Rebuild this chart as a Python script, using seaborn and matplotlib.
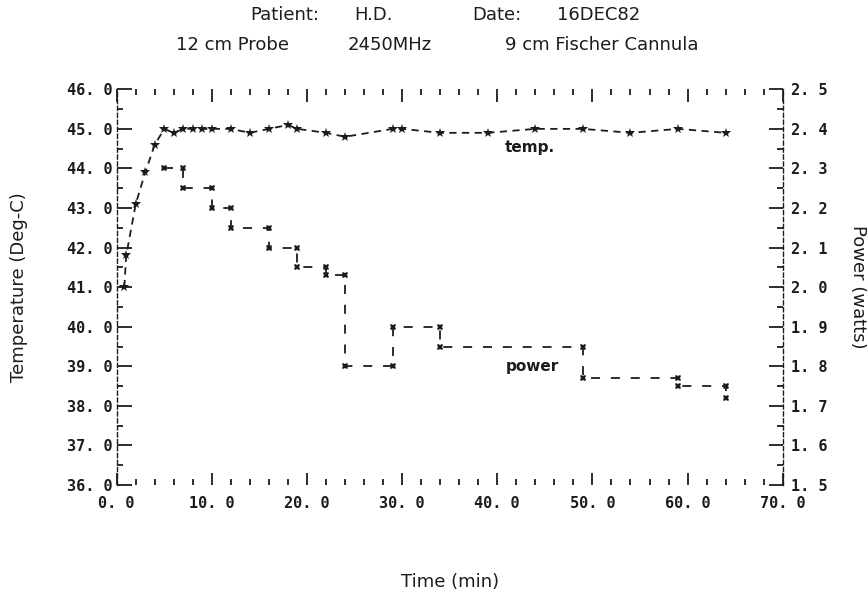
import numpy as np
import matplotlib
matplotlib.use("Agg")
import matplotlib.pyplot as plt
from matplotlib.ticker import MultipleLocator, FuncFormatter
import seaborn as sns

# Tissue temperature (deg C) against elapsed treatment time (min)
temp_time = [0.8, 1, 2, 3, 4, 5, 6, 7, 8, 9, 10, 12, 14, 16, 18, 19,
             22, 24, 29, 30, 34, 39, 44, 49, 54, 59, 64]
temp_degc = [41.0, 41.8, 43.1, 43.9, 44.6, 45.0, 44.9, 45.0, 45.0, 45.0,
             45.0, 45.0, 44.9, 45.0, 45.1, 45.0, 44.9, 44.8, 45.0, 45.0,
             44.9, 44.9, 45.0, 45.0, 44.9, 45.0, 44.9]

# Forward power setting (watts); each setting holds until the next change
power_time = [5, 7, 10, 12, 16, 19, 22, 24, 29, 34, 49, 59, 64]
power_watts = [2.30, 2.25, 2.20, 2.15, 2.10, 2.05, 2.03, 1.80, 1.90,
               1.85, 1.77, 1.75, 1.72]

title_row1 = ["Patient:", "H.D.", "Date:", "16DEC82"]
title_row2 = ["12 cm Probe", "2450MHz", "9 cm Fischer Cannula"]

sns.set_style("white")
plt.rcParams["font.family"] = ["DejaVu Sans"]

ink = "#1c1c1c"
W, H = 867, 590
fig = plt.figure(figsize=(W / 100, H / 100), dpi=100)
ax_left, ax_right, ax_top, ax_bot = 116.7, 782.7, 89.3, 485.0
ax = fig.add_axes([ax_left / W, 1 - ax_bot / H,
                   (ax_right - ax_left) / W, (ax_bot - ax_top) / H])
ax2 = ax.twinx()

# temperature trace on the left scale
sns.lineplot(x=temp_time, y=temp_degc, ax=ax, sort=False, estimator=None,
             color=ink, linewidth=1.3, linestyle=(0, (4, 3)),
             marker="*", markersize=7, markeredgewidth=0)

# power as a step trace on the right scale, marked at every corner
step_t = np.repeat(power_time, 2)[1:]
step_p = np.repeat(power_watts, 2)[:-1]
sns.lineplot(x=step_t, y=step_p, ax=ax2, sort=False, estimator=None,
             color=ink, linewidth=1.3, linestyle=(0, (5, 6)),
             marker="X", markersize=5, markeredgewidth=0)

ax.set_xlim(0, 70)
ax.set_ylim(36, 46)
ax2.set_ylim(1.5, 2.5)

ax.xaxis.set_major_locator(MultipleLocator(10))
ax.xaxis.set_minor_locator(MultipleLocator(2))
ax.yaxis.set_major_locator(MultipleLocator(1))
ax.yaxis.set_minor_locator(MultipleLocator(0.5))
ax2.yaxis.set_major_locator(MultipleLocator(0.1))
ax2.yaxis.set_minor_locator(MultipleLocator(0.05))

plotter = FuncFormatter(lambda v, pos: f"{v:.1f}".replace(".", ". "))
ax.xaxis.set_major_formatter(plotter)
ax.yaxis.set_major_formatter(plotter)
ax2.yaxis.set_major_formatter(plotter)

tick_font = dict(family="DejaVu Sans Mono", weight="bold", size=11)
ax.tick_params(axis="x", which="both", direction="in", top=True, bottom=True,
               color=ink, width=1.3, pad=8, labelcolor=ink)
ax.tick_params(axis="x", which="major", length=9)
ax.tick_params(axis="x", which="minor", length=4)
ax.tick_params(axis="y", which="both", direction="in", left=True, right=False,
               color=ink, width=1.3, pad=3, labelcolor=ink)
ax.tick_params(axis="y", which="major", length=11)
ax.tick_params(axis="y", which="minor", length=4)
ax2.tick_params(axis="y", which="both", direction="in", right=True, left=False,
                color=ink, width=1.3, pad=6, labelcolor=ink)
ax2.tick_params(axis="y", which="major", length=10)
ax2.tick_params(axis="y", which="minor", length=4)
for lab in ax.get_xticklabels() + ax.get_yticklabels() + ax2.get_yticklabels():
    lab.set_fontproperties(tick_font)

for name in ["top", "bottom", "right"]:
    ax.spines[name].set_visible(False)
for name in ["top", "bottom", "left"]:
    ax2.spines[name].set_visible(False)
for sp in (ax.spines["left"], ax2.spines["right"]):
    sp.set_linestyle((0, (3, 2)))
    sp.set_linewidth(1.0)
    sp.set_color(ink)

label_font = dict(size=13, color=ink)
ax.set_xlabel("Time (min)", **label_font)
ax.xaxis.set_label_coords(0.5, -0.222)
ax.set_ylabel("Temperature (Deg-C)", rotation=90, va="center", **label_font)
ax.yaxis.set_label_coords(-0.147, 0.5)
ax2.set_ylabel("Power (watts)", rotation=270, va="center", **label_font)
ax2.yaxis.set_label_coords(1.1135, 0.5)

ax.text(43.4, 44.52, "temp.", ha="center", va="center", color=ink,
        fontsize=11, fontweight="bold")
ax.text(43.7, 39.0, "power", ha="center", va="center", color=ink,
        fontsize=11, fontweight="bold")

row1_x = [284.6, 374.0, 497.0, 599.0]
row2_x = [232.7, 390.0, 602.0]
for txt, x in zip(title_row1, row1_x):
    fig.text(x / W, 1 - 15 / H, txt, ha="center", va="center", size=13, color=ink)
for txt, x in zip(title_row2, row2_x):
    fig.text(x / W, 1 - 45 / H, txt, ha="center", va="center", size=13, color=ink)

fig.savefig("out.png", dpi=100, facecolor="white")
